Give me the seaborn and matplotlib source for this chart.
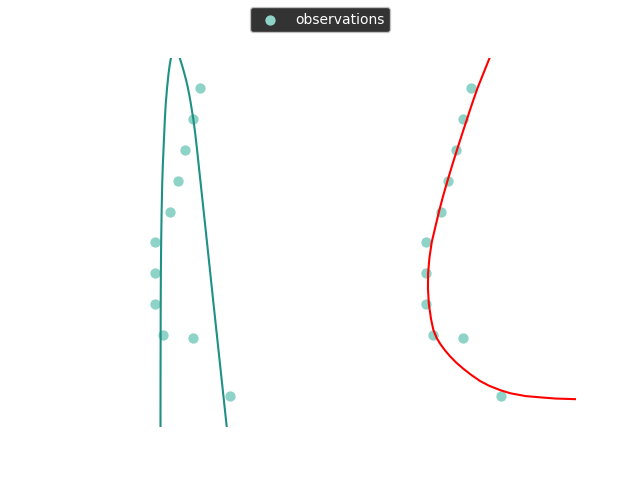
import matplotlib
matplotlib.use("Agg")
import matplotlib.pyplot as plt
import seaborn as sns

# ==== data ====
depth = [1, 2, 3, 4, 5, 6, 7, 8, 9, 9.1, 11]
value = [16, 15, 14, 13, 12, 10, 10, 10, 11, 15, 20]

# left panel: two fitted curves
fit_a_depth = [0, 0.25, 0.5, 0.78, 1.0, 1.5, 2.0, 2.5, 3.0, 3.5, 4.0, 5.0, 6.0, 7.0, 8.0, 10.0, 12.0]
fit_a_value = [12.11, 11.93, 11.79, 11.67, 11.58, 11.41, 11.29, 11.20, 11.11, 11.02, 10.95,
               10.86, 10.80, 10.76, 10.74, 10.72, 10.71]

fit_b_depth = [0, 0.25, 0.5, 0.78, 1.0, 1.25, 1.5, 2.0, 2.5, 3.0, 4.0, 6.0, 8.0, 10.0, 12.0]
fit_b_value = [13.25, 13.58, 13.87, 14.17, 14.37, 14.57, 14.75, 15.08, 15.35, 15.58, 16.02,
               16.90, 17.77, 18.65, 19.53]

# right panel: red fitted curve
fit_c_depth = [0.0, 0.5, 1.0, 1.5, 2.0, 2.5, 3.0, 3.5, 4.0, 4.5, 5.0, 5.5, 6.0, 6.5, 7.0, 7.5,
               8.0, 8.5, 8.84, 9.1, 9.3, 9.5, 9.7, 9.9, 10.1, 10.3, 10.5, 10.65, 10.8, 10.9,
               10.99, 11.03, 11.07, 11.09]
fit_c_value = [18.52, 17.70, 16.88, 16.17, 15.49, 14.82, 14.16, 13.52, 12.90, 12.31, 11.77,
               11.28, 10.80, 10.50, 10.32, 10.30, 10.42, 10.72, 11.02, 11.45, 11.95, 12.55,
               13.25, 14.05, 15.00, 16.05, 17.23, 18.40, 19.95, 21.30, 23.30, 25.20, 27.30, 30.0]

teal_pts = "#8dd3c7"
teal_line = "#1f9085"

sns.set_style("white")
fig, (ax1, ax2) = plt.subplots(1, 2, figsize=(6.4, 4.8), dpi=100)

sns.scatterplot(x=value, y=depth, ax=ax1, color=teal_pts, s=55, linewidth=0,
                label="observations", legend=False)
sns.scatterplot(x=value, y=depth, ax=ax2, color=teal_pts, s=55, linewidth=0, legend=False)

sns.lineplot(x=fit_a_value, y=fit_a_depth, ax=ax1, sort=False, estimator=None,
             color=teal_line, linewidth=1.5, legend=False)
sns.lineplot(x=fit_b_value, y=fit_b_depth, ax=ax1, sort=False, estimator=None,
             color=teal_line, linewidth=1.5, legend=False)
sns.lineplot(x=fit_c_value, y=fit_c_depth, ax=ax2, sort=False, estimator=None,
             color="red", linewidth=1.5, legend=False)

for ax in (ax1, ax2):
    if ax.get_legend() is not None:
        ax.get_legend().remove()
    ax.set_xlim(0, 30)
    ax.set_ylim(12, 0)
    ax.axis("off")

handles = ax1.collections[:1]
leg = fig.legend(handles, ["observations"], loc="upper center", facecolor="black")
for t in leg.get_texts():
    t.set_color("white")

plt.savefig("out.png", dpi=100)
